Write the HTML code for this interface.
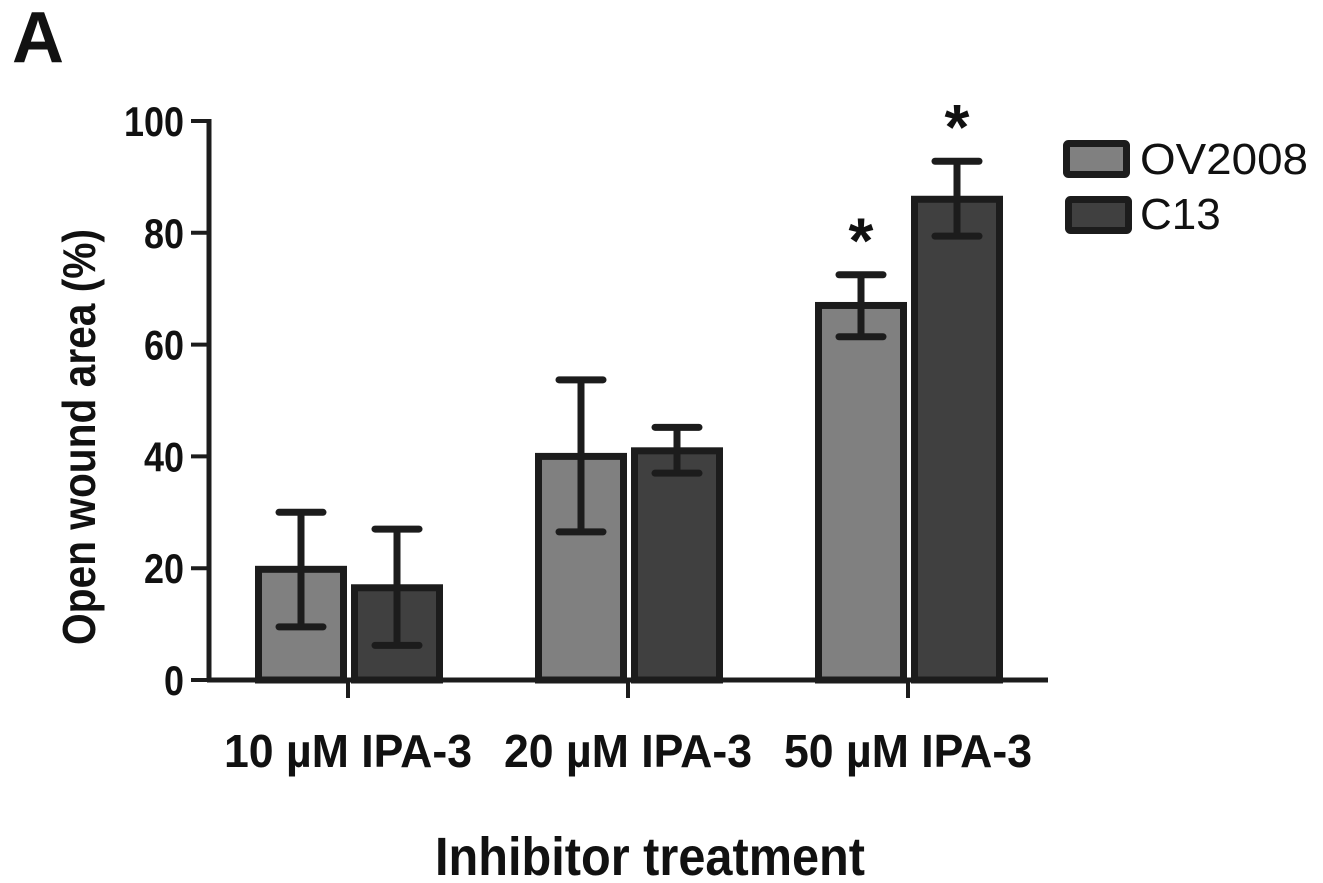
<!DOCTYPE html>
<html><head><meta charset="utf-8"><style>
html,body{margin:0;padding:0;background:#fff;}
svg{display:block;font-family:"Liberation Sans",Arial,sans-serif;}
</style></head><body>
<svg id="chart" width="1323" height="883" viewBox="0 0 1323 883">
<text x="12" y="62" font-size="72" font-weight="bold" fill="#111">A</text>
<g id="plot"></g>
<text transform="translate(95,437) rotate(-90)" text-anchor="middle" font-size="46" font-weight="bold" fill="#111" textLength="416" lengthAdjust="spacingAndGlyphs">Open wound area (%)</text>
<text x="650" y="875" text-anchor="middle" font-size="54" font-weight="bold" fill="#111" textLength="430" lengthAdjust="spacingAndGlyphs">Inhibitor treatment</text>
<g>
<rect x="1066.5" y="143.5" width="60" height="31" fill="#808080" stroke="#1c1c1c" stroke-width="7" rx="2"/>
<text x="1140" y="174" font-size="44" fill="#111" textLength="168" lengthAdjust="spacingAndGlyphs">OV2008</text>
<rect x="1068.5" y="199.5" width="60" height="31" fill="#404040" stroke="#1c1c1c" stroke-width="7" rx="2"/>
<text x="1140" y="229" font-size="44" fill="#111">C13</text>
</g>
</svg>
<script>
const categories = ["10 µM IPA-3", "20 µM IPA-3", "50 µM IPA-3"];
const ov2008 = [19.8, 40.0, 67.0];
const ov2008Low = [9.5, 26.5, 61.4];
const ov2008High = [30.0, 53.7, 72.5];
const c13 = [16.5, 41.0, 86.0];
const c13Low = [6.2, 37.0, 79.4];
const c13High = [27.0, 45.2, 92.8];
const ov2008Sig = [false, false, true];
const c13Sig = [false, false, true];
const yTicks = [0, 20, 40, 60, 80, 100];

const NS = "http://www.w3.org/2000/svg";
const g = document.getElementById("plot");
const X0 = 209, X1 = 1048, Y0 = 680, Y100 = 121;
function yScale(v){ return Y0 - (v / 100) * (Y0 - Y100); }
function xCenter(i){ return 348 + i * 280; }
function mk(tag, attrs){ const e = document.createElementNS(NS, tag); for (const k in attrs) e.setAttribute(k, attrs[k]); g.appendChild(e); return e; }
const INK = "#1c1c1c";
const bw = 85;

function drawBar(i, v, lo, hi, sig, x, fill, nm){
  const r = mk("rect", {x: x, y: yScale(v), width: bw, height: Y0 - yScale(v), fill: fill, stroke: INK, "stroke-width": 7});
  
  
  const cx = x + bw / 2;
  const l = mk("line", {x1: cx, x2: cx, y1: yScale(hi), y2: yScale(lo), stroke: INK, "stroke-width": 7});
  
  
  [hi, lo].forEach(function(val){
    const c = mk("line", {x1: cx - 22, x2: cx + 22, y1: yScale(val), y2: yScale(val), stroke: INK, "stroke-width": 7, "stroke-linecap": "round"});
    
    
  });
  if (sig) {
    const s = mk("text", {x: cx, y: yScale(hi) - 12, "text-anchor": "middle", "font-size": 64, "font-weight": "bold", fill: "#111"});
    s.textContent = "*";
    
    
  }
}

categories.forEach(function(cat, i){
  const c = xCenter(i);
  drawBar(i, ov2008[i], ov2008Low[i], ov2008High[i], ov2008Sig[i], c - 4.5 - bw, "#808080", "ov2008");
  drawBar(i, c13[i], c13Low[i], c13High[i], c13Sig[i], c + 6.5, "#404040", "c13");
  const t = mk("line", {x1: c, x2: c, y1: Y0, y2: Y0 + 18, stroke: INK, "stroke-width": 4});
  
  
  const lb = mk("text", {x: c, y: 767, "text-anchor": "middle", "font-size": 46, "font-weight": "bold", fill: "#111", textLength: 248, lengthAdjust: "spacingAndGlyphs"});
  lb.textContent = cat;
  
  
});

yTicks.forEach(function(v){
  const y = yScale(v);
  const t = mk("line", {x1: 191, x2: X0, y1: y, y2: y, stroke: INK, "stroke-width": 4});
  
  
  const s = String(v);
  const lb = mk("text", {x: 184, y: y + 15, "text-anchor": "end", "font-size": 42, "font-weight": "bold", fill: "#111", textLength: s.length * 20, lengthAdjust: "spacingAndGlyphs"});
  lb.textContent = s;
  
  
});

const ya = mk("line", {x1: X0, x2: X0, y1: Y100 - 2, y2: Y0 + 2, stroke: INK, "stroke-width": 5});


const xa = mk("line", {x1: X0 - 2, x2: X1, y1: Y0, y2: Y0, stroke: INK, "stroke-width": 5});


</script>
</body></html>
